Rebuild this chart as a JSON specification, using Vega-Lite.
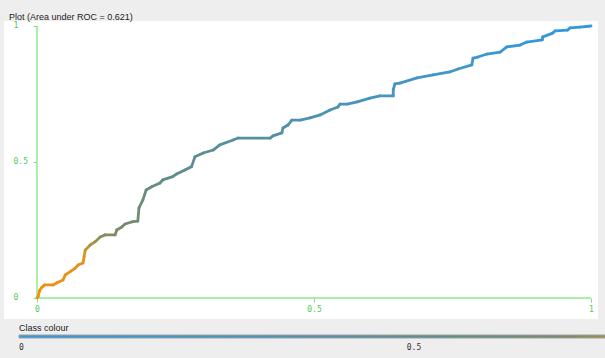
{
  "$schema": "https://vega.github.io/schema/vega-lite/v6.json",
  "width": 594,
  "height": 298,
  "autosize": {"type": "none"},
  "padding": {"left": 4, "top": 21, "right": 7, "bottom": 39},
  "background": "#eeeeee",
  "config": {"view": {"fill": "white", "stroke": null}},
  "title": {"text": "Plot (Area under ROC = 0.621)", "anchor": "start", "frame": "group", "font": "Liberation Sans", "fontSize": 9, "fontWeight": "normal", "color": "#222222", "offset": 2, "baseline": "bottom", "dx": 5, "dy": 12},
  "encoding": {
    "x": {"field": "fpr", "type": "quantitative", "scale": {"domain": [-0.05957, 1.01264], "nice": false, "zero": false},
      "axis": {"orient": "bottom", "offset": -21, "values": [0, 0.5, 1], "domain": false, "grid": false, "tickColor": "#80e080", "tickSize": 4, "labelColor": "#55c855", "labelFont": "DejaVu Sans Mono", "labelFontSize": 8, "labelPadding": 3, "labelDx": -3, "format": ".1~f", "title": null, "labelFlush": false, "labelOverlap": false}},
    "y": {"field": "tpr", "type": "quantitative", "scale": {"domain": [-0.07721, 1.01838], "nice": false, "zero": false},
      "axis": {"orient": "left", "offset": -33, "values": [0, 0.5, 1], "domain": false, "grid": false, "tickColor": "#80e080", "tickSize": 4, "labelColor": "#55c855", "labelFont": "DejaVu Sans Mono", "labelFontSize": 8, "labelAlign": "left", "labelPadding": 20, "labelDy": 2, "format": ".1~f", "title": null, "labelFlush": false, "labelOverlap": false}}
  },
  "layer": [
    {
      "data": {"values": [
        {"fpr": 0, "tpr": 0, "fpr2": 1, "tpr2": 0},
        {"fpr": 0, "tpr": 0, "fpr2": 0, "tpr2": 1}
      ]},
      "mark": {"type": "rule", "color": "#8ee88e", "strokeWidth": 1.5},
      "encoding": {
        "x2": {"field": "fpr2"},
        "y2": {"field": "tpr2"}
      }
    },
    {
      "data": {"values": [
        {"o": 0, "fpr": 0, "tpr": 0, "t": 1.0},
        {"o": 1, "fpr": 0.002, "tpr": 0.005, "t": 0.99},
        {"o": 2, "fpr": 0.005, "tpr": 0.029, "t": 0.98},
        {"o": 3, "fpr": 0.009, "tpr": 0.040, "t": 0.97},
        {"o": 4, "fpr": 0.014, "tpr": 0.048, "t": 0.96},
        {"o": 5, "fpr": 0.029, "tpr": 0.048, "t": 0.95},
        {"o": 6, "fpr": 0.036, "tpr": 0.056, "t": 0.94},
        {"o": 7, "fpr": 0.047, "tpr": 0.066, "t": 0.93},
        {"o": 8, "fpr": 0.051, "tpr": 0.085, "t": 0.92},
        {"o": 9, "fpr": 0.060, "tpr": 0.097, "t": 0.91},
        {"o": 10, "fpr": 0.069, "tpr": 0.110, "t": 0.90},
        {"o": 11, "fpr": 0.074, "tpr": 0.121, "t": 0.89},
        {"o": 12, "fpr": 0.083, "tpr": 0.129, "t": 0.88},
        {"o": 13, "fpr": 0.085, "tpr": 0.152, "t": 0.86},
        {"o": 14, "fpr": 0.087, "tpr": 0.176, "t": 0.78},
        {"o": 15, "fpr": 0.096, "tpr": 0.195, "t": 0.76},
        {"o": 16, "fpr": 0.105, "tpr": 0.207, "t": 0.74},
        {"o": 17, "fpr": 0.114, "tpr": 0.224, "t": 0.72},
        {"o": 18, "fpr": 0.123, "tpr": 0.232, "t": 0.71},
        {"o": 19, "fpr": 0.141, "tpr": 0.232, "t": 0.70},
        {"o": 20, "fpr": 0.144, "tpr": 0.250, "t": 0.69},
        {"o": 21, "fpr": 0.153, "tpr": 0.261, "t": 0.68},
        {"o": 22, "fpr": 0.159, "tpr": 0.272, "t": 0.67},
        {"o": 23, "fpr": 0.173, "tpr": 0.281, "t": 0.66},
        {"o": 24, "fpr": 0.182, "tpr": 0.283, "t": 0.65},
        {"o": 25, "fpr": 0.184, "tpr": 0.331, "t": 0.63},
        {"o": 26, "fpr": 0.191, "tpr": 0.360, "t": 0.61},
        {"o": 27, "fpr": 0.197, "tpr": 0.397, "t": 0.59},
        {"o": 28, "fpr": 0.207, "tpr": 0.409, "t": 0.57},
        {"o": 29, "fpr": 0.222, "tpr": 0.423, "t": 0.55},
        {"o": 30, "fpr": 0.227, "tpr": 0.434, "t": 0.54},
        {"o": 31, "fpr": 0.245, "tpr": 0.446, "t": 0.53},
        {"o": 32, "fpr": 0.252, "tpr": 0.456, "t": 0.52},
        {"o": 33, "fpr": 0.267, "tpr": 0.471, "t": 0.51},
        {"o": 34, "fpr": 0.279, "tpr": 0.483, "t": 0.50},
        {"o": 35, "fpr": 0.285, "tpr": 0.519, "t": 0.48},
        {"o": 36, "fpr": 0.300, "tpr": 0.533, "t": 0.47},
        {"o": 37, "fpr": 0.318, "tpr": 0.544, "t": 0.46},
        {"o": 38, "fpr": 0.330, "tpr": 0.563, "t": 0.45},
        {"o": 39, "fpr": 0.354, "tpr": 0.581, "t": 0.44},
        {"o": 40, "fpr": 0.363, "tpr": 0.588, "t": 0.43},
        {"o": 41, "fpr": 0.421, "tpr": 0.588, "t": 0.42},
        {"o": 42, "fpr": 0.426, "tpr": 0.596, "t": 0.41},
        {"o": 43, "fpr": 0.442, "tpr": 0.607, "t": 0.40},
        {"o": 44, "fpr": 0.444, "tpr": 0.625, "t": 0.39},
        {"o": 45, "fpr": 0.453, "tpr": 0.636, "t": 0.38},
        {"o": 46, "fpr": 0.460, "tpr": 0.654, "t": 0.37},
        {"o": 47, "fpr": 0.475, "tpr": 0.654, "t": 0.36},
        {"o": 48, "fpr": 0.493, "tpr": 0.662, "t": 0.35},
        {"o": 49, "fpr": 0.511, "tpr": 0.673, "t": 0.34},
        {"o": 50, "fpr": 0.529, "tpr": 0.691, "t": 0.33},
        {"o": 51, "fpr": 0.543, "tpr": 0.702, "t": 0.32},
        {"o": 52, "fpr": 0.547, "tpr": 0.713, "t": 0.31},
        {"o": 53, "fpr": 0.560, "tpr": 0.713, "t": 0.30},
        {"o": 54, "fpr": 0.578, "tpr": 0.721, "t": 0.29},
        {"o": 55, "fpr": 0.601, "tpr": 0.735, "t": 0.28},
        {"o": 56, "fpr": 0.619, "tpr": 0.743, "t": 0.27},
        {"o": 57, "fpr": 0.643, "tpr": 0.743, "t": 0.26},
        {"o": 58, "fpr": 0.643, "tpr": 0.765, "t": 0.25},
        {"o": 59, "fpr": 0.646, "tpr": 0.787, "t": 0.24},
        {"o": 60, "fpr": 0.655, "tpr": 0.790, "t": 0.23},
        {"o": 61, "fpr": 0.686, "tpr": 0.809, "t": 0.21},
        {"o": 62, "fpr": 0.715, "tpr": 0.820, "t": 0.19},
        {"o": 63, "fpr": 0.745, "tpr": 0.831, "t": 0.17},
        {"o": 64, "fpr": 0.760, "tpr": 0.842, "t": 0.16},
        {"o": 65, "fpr": 0.785, "tpr": 0.857, "t": 0.14},
        {"o": 66, "fpr": 0.787, "tpr": 0.882, "t": 0.13},
        {"o": 67, "fpr": 0.796, "tpr": 0.886, "t": 0.12},
        {"o": 68, "fpr": 0.812, "tpr": 0.897, "t": 0.11},
        {"o": 69, "fpr": 0.836, "tpr": 0.904, "t": 0.10},
        {"o": 70, "fpr": 0.848, "tpr": 0.923, "t": 0.09},
        {"o": 71, "fpr": 0.872, "tpr": 0.930, "t": 0.08},
        {"o": 72, "fpr": 0.884, "tpr": 0.941, "t": 0.07},
        {"o": 73, "fpr": 0.912, "tpr": 0.949, "t": 0.06},
        {"o": 74, "fpr": 0.913, "tpr": 0.960, "t": 0.05},
        {"o": 75, "fpr": 0.931, "tpr": 0.974, "t": 0.04},
        {"o": 76, "fpr": 0.935, "tpr": 0.982, "t": 0.03},
        {"o": 77, "fpr": 0.958, "tpr": 0.985, "t": 0.02},
        {"o": 78, "fpr": 0.962, "tpr": 0.993, "t": 0.015},
        {"o": 79, "fpr": 0.980, "tpr": 0.996, "t": 0.01},
        {"o": 80, "fpr": 1.0, "tpr": 1.0, "t": 0.0}
      ]},
      "transform": [
        {"window": [{"op": "lead", "field": "fpr", "as": "fpr2"}, {"op": "lead", "field": "tpr", "as": "tpr2"}], "sort": [{"field": "o"}]},
        {"filter": "datum.fpr2 != null"}
      ],
      "mark": {"type": "rule", "strokeWidth": 2.8, "strokeCap": "round"},
      "encoding": {
        "x2": {"field": "fpr2"},
        "y2": {"field": "tpr2"},
        "color": {"field": "t", "type": "quantitative",
          "scale": {"domain": [0, 0.3, 0.5, 0.7, 0.8, 1], "range": ["#3399dd", "#4a94bc", "#5f8c92", "#7f8a6a", "#d88f25", "#f5900a"]},
          "legend": {"orient": "none", "legendX": 15, "legendY": 303, "direction": "horizontal", "title": "Class colour", "titleFont": "Liberation Sans", "titleFontSize": 9, "titleFontWeight": "normal", "titleColor": "#222222", "titleBaseline": "top", "titlePadding": 2, "titleAnchor": "start", "gradientLength": 790, "gradientThickness": 3, "gradientStrokeColor": "#a0a0a0", "gradientStrokeWidth": 1, "values": [0, 0.5], "format": ".1~f", "labelFont": "DejaVu Sans Mono", "labelFontSize": 8, "labelColor": "#333333", "labelOffset": 6, "labelAlign": "center"}}
      }
    }
  ]
}
